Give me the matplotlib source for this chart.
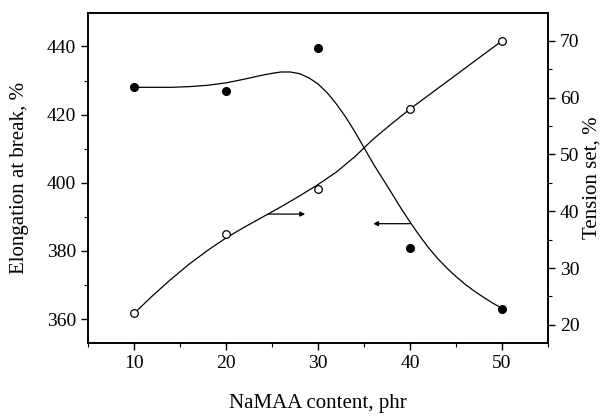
import numpy as np
import matplotlib
matplotlib.use('Agg')
import matplotlib.pyplot as plt
from matplotlib.ticker import MultipleLocator

plt.rcParams['font.family'] = ['Liberation Serif', 'DejaVu Serif']

# measured points
namaa = [10, 20, 30, 40, 50]
elongation = [428, 427, 439.5, 381, 363]
tension_set = [22, 36, 44, 58, 70]

# smooth curves
elong_x = [10, 12, 14, 16, 18, 20, 22, 24, 25, 26, 27, 28, 29, 30, 31, 32,
           33, 34, 35, 36, 37, 38, 39, 40, 41, 42, 43, 44, 45, 46, 47, 48,
           49, 50]
elong_curve = [428, 428, 428, 428.2, 428.6, 429.3, 430.4, 431.6, 432.1,
               432.5, 432.5, 432.0, 430.8, 429.0, 426.4, 423.1, 419.3, 415.0,
               410.3, 405.6, 401.3, 397.0, 392.6, 388.5, 384.6, 381.0, 377.8,
               375.0, 372.5, 370.2, 368.2, 366.4, 364.7, 363.2]
tension_x = [10, 12, 14, 16, 18, 20, 22, 24, 26, 28, 30, 32, 34, 36, 38,
             40, 42, 44, 46, 48, 50]
tension_curve = [22, 25.1, 28, 30.7, 33.1, 35.3, 37.2, 39, 40.8, 42.7, 44.7,
                 46.9, 49.6, 52.7, 55.4, 58, 60.4, 62.8, 65.2, 67.6, 70]

fig = plt.figure(figsize=(6.05, 4.18), dpi=100)
ax = fig.add_axes([0.1455, 0.1794, 0.7603, 0.7895])
ax2 = ax.twinx()

#Elongation on the left axis
ax.plot(elong_x, elong_curve, color='black', lw=0.9)
ax.plot(namaa, elongation, 'o', color='black', ms=5.5)
ax.set_xlim(5, 55)
ax.set_ylim(353, 449.8)
ax.set_xlabel('NaMAA content, phr', fontsize=15, labelpad=16)
ax.set_ylabel('Elongation at break, %', fontsize=15, labelpad=13)
ax.xaxis.set_major_locator(MultipleLocator(10))
ax.xaxis.set_minor_locator(MultipleLocator(5))
ax.yaxis.set_major_locator(MultipleLocator(20))
ax.yaxis.set_minor_locator(MultipleLocator(10))
ax.annotate('', xy=(36.0, 388), xytext=(40.0, 388),
            arrowprops=dict(arrowstyle='-|>', color='black', lw=0.9,
                            mutation_scale=7, shrinkA=0, shrinkB=0))

#Tension set on the right axis
ax2.plot(tension_x, tension_curve, color='black', lw=0.9)
ax2.plot(namaa, tension_set, 'o', mfc='white', mec='black', mew=0.9, ms=5.5)
ax2.set_ylim(16.8, 74.9)
ax2.set_ylabel('Tension set, %', fontsize=15, labelpad=2)
ax2.yaxis.set_major_locator(MultipleLocator(10))
ax2.yaxis.set_minor_locator(MultipleLocator(5))
ax2.annotate('', xy=(28.6, 39.5), xytext=(24.6, 39.5),
             arrowprops=dict(arrowstyle='-|>', color='black', lw=0.9,
                             mutation_scale=7, shrinkA=0, shrinkB=0))

for a in (ax, ax2):
    a.tick_params(which='major', direction='out', length=5, width=1,
                  labelsize=14)
    a.tick_params(which='minor', direction='out', length=3, width=0.8)
    for s in a.spines.values():
        s.set_linewidth(1.2)
ax.tick_params(axis='x', which='both', top=False)

fig.savefig('out.png', dpi=100)
